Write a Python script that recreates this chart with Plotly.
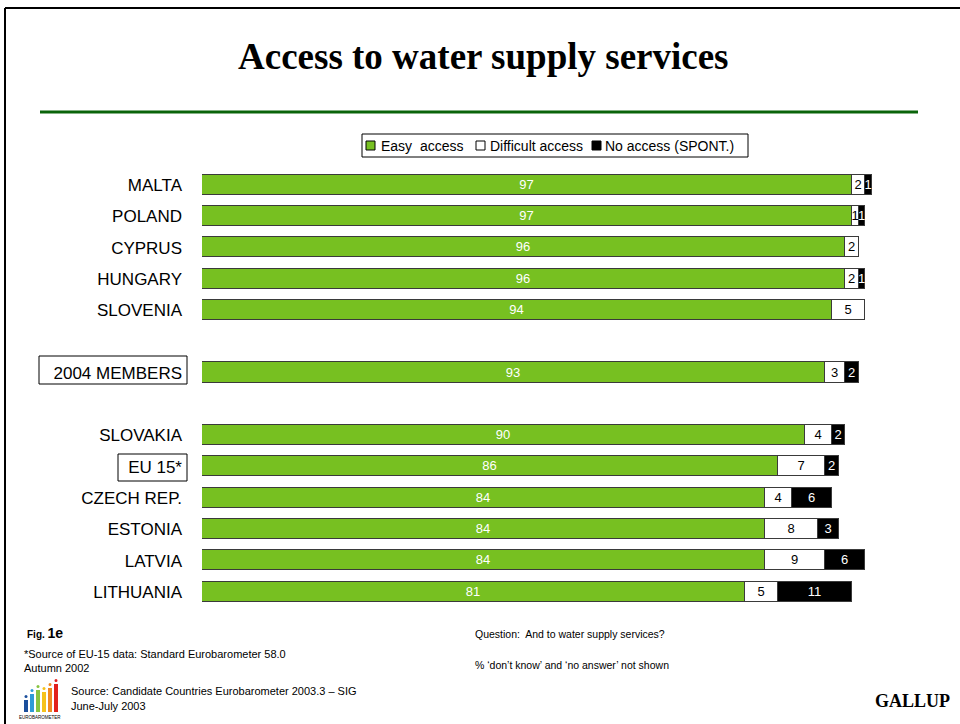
import plotly.graph_objects as go

# ---- data ----------------------------------------------------------------
countries = ["MALTA", "POLAND", "CYPRUS", "HUNGARY", "SLOVENIA", "",
             "2004 MEMBERS", "", "SLOVAKIA", "EU 15*", "CZECH REP.",
             "ESTONIA", "LATVIA", "LITHUANIA"]
easy_access = [97, 97, 96, 96, 94, None, 93, None, 90, 86, 84, 84, 84, 81]
difficult_access = [2, 1, 2, 2, 5, None, 3, None, 4, 7, 4, 8, 9, 5]
no_access = [1, 1, None, 1, None, None, 2, None, 2, 2, 6, 3, 6, 11]

series_names = ["Easy  access", "Difficult access", "No access (SPONT.)"]
series_values = [easy_access, difficult_access, no_access]
series_colors = ["#77C021", "#FFFFFF", "#000000"]
label_colors = ["#FFFFFF", "#000000", "#FFFFFF"]

W, H = 960, 724
FONT = "Liberation Sans, Arial, sans-serif"
SERIF = "Liberation Serif, Times New Roman, serif"


def px(x):
    return x / W


def py(y):
    return 1 - y / H


slots = list(range(len(countries)))
first_c, last_c = 185, 592
step = (last_c - first_c) / (len(countries) - 1)
y_dom = [py(last_c + step / 2), py(first_c - step / 2)]

fig = go.Figure()
for name, vals, col, lcol in zip(series_names, series_values,
                                 series_colors, label_colors):
    fig.add_trace(go.Bar(
        y=slots, x=vals, name=name, orientation="h",
        marker=dict(color=col, line=dict(color="#3a3a3a", width=1)),
        width=0.64,
        text=[str(v) if v else "" for v in vals],
        textposition="inside", insidetextanchor="middle", textangle=0,
        textfont=dict(family=FONT, size=13, color=lcol),
        showlegend=False, hoverinfo="skip",
    ))

shapes = []
annotations = []

# frame lines
shapes.append(dict(type="line", xref="paper", yref="paper",
                   x0=px(5), x1=px(960), y0=py(8), y1=py(8),
                   line=dict(color="black", width=2)))
shapes.append(dict(type="line", xref="paper", yref="paper",
                   x0=px(5), x1=px(5), y0=py(8), y1=py(724),
                   line=dict(color="black", width=2)))
# green rule under title
shapes.append(dict(type="line", xref="paper", yref="paper",
                   x0=px(40), x1=px(918), y0=py(112), y1=py(112),
                   line=dict(color="#0A640A", width=3)))

# title
annotations.append(dict(text="<b>Access to water supply services</b>",
                        x=px(483), y=py(57), xref="paper", yref="paper",
                        xanchor="center", yanchor="middle", showarrow=False,
                        font=dict(family=SERIF, size=37, color="black")))

# legend box
shapes.append(dict(type="rect", xref="paper", yref="paper",
                   x0=px(362), x1=px(748), y0=py(134), y1=py(157),
                   line=dict(color="black", width=1), fillcolor="white"))
leg_sq_x = [366, 476, 592]
leg_tx_x = [379, 488, 603]
for sx, tx, name, col in zip(leg_sq_x, leg_tx_x, series_names, series_colors):
    shapes.append(dict(type="rect", xref="paper", yref="paper",
                       x0=px(sx), x1=px(sx + 9), y0=py(141), y1=py(150),
                       line=dict(color="black", width=1), fillcolor=col))
    annotations.append(dict(text=name, x=px(tx), y=py(146), xref="paper",
                            yref="paper", xanchor="left", yanchor="middle",
                            showarrow=False,
                            font=dict(family=FONT, size=14, color="black")))

# boxes around the aggregate labels
shapes.append(dict(type="rect", xref="paper", yref="paper",
                   x0=px(39), x1=px(187), y0=py(356), y1=py(384),
                   line=dict(color="black", width=1)))
shapes.append(dict(type="rect", xref="paper", yref="paper",
                   x0=px(118), x1=px(187), y0=py(454), y1=py(481),
                   line=dict(color="black", width=1)))


# footer notes
def note(text, x, y, size=11, family=FONT, anchor="left"):
    annotations.append(dict(text=text, x=px(x), y=py(y), xref="paper",
                            yref="paper", xanchor=anchor, yanchor="middle",
                            showarrow=False,
                            font=dict(family=family, size=size,
                                      color="black")))


note("<b>Fig.</b> <b><span style='font-size:14px'>1e</span></b>", 25, 633, 10)
note("*Source of EU-15 data: Standard Eurobarometer 58.0", 22, 654)
note("Autumn 2002", 22, 668)
note("Source: Candidate Countries Eurobarometer 2003.3 \u2013 SIG", 69, 691)
note("June-July 2003", 69, 706)
note("Question:  And to water supply services?", 473, 634, 10.5)
note("% \u2018don\u2019t know\u2019 and \u2018no answer\u2019 not shown", 473, 665, 10.5)
note("<b>GALLUP</b>", 952, 701, 18, SERIF, "right")

# eurobarometer logo
logo_cols = ["#1B4F9C", "#2E9BD6", "#86C440", "#F6C21C", "#F08A21", "#E2211C"]
logo_tops = [700, 694, 690, 692, 688, 684]
for i, (c, t) in enumerate(zip(logo_cols, logo_tops)):
    x0 = 24 + i * 6
    shapes.append(dict(type="rect", xref="paper", yref="paper",
                       x0=px(x0), x1=px(x0 + 4), y0=py(712), y1=py(t),
                       line=dict(width=0), fillcolor=c))
    shapes.append(dict(type="circle", xref="paper", yref="paper",
                       x0=px(x0 + 0.5), x1=px(x0 + 3.5),
                       y0=py(t - 5), y1=py(t - 2),
                       line=dict(width=0), fillcolor=c))
note("EUROBAROMETER", 40, 717, 4.5, FONT, "center")

fig.update_layout(
    width=W, height=H,
    margin=dict(l=0, r=0, t=0, b=0),
    paper_bgcolor="white", plot_bgcolor="white",
    barmode="stack", bargap=0,
    uniformtext=dict(minsize=13, mode="show"),
    xaxis=dict(domain=[px(202), px(872)], range=[0, 100], visible=False,
               fixedrange=True),
    yaxis=dict(domain=y_dom, range=[len(countries) - 0.5, -0.5],
               tickmode="array", tickvals=slots, ticktext=countries,
               showgrid=False, zeroline=False, showline=False, ticks="",
               ticklabelstandoff=19,
               tickfont=dict(family=FONT, size=17, color="black")),
    shapes=shapes, annotations=annotations,
    showlegend=False,
)

fig.write_html("out.html")
